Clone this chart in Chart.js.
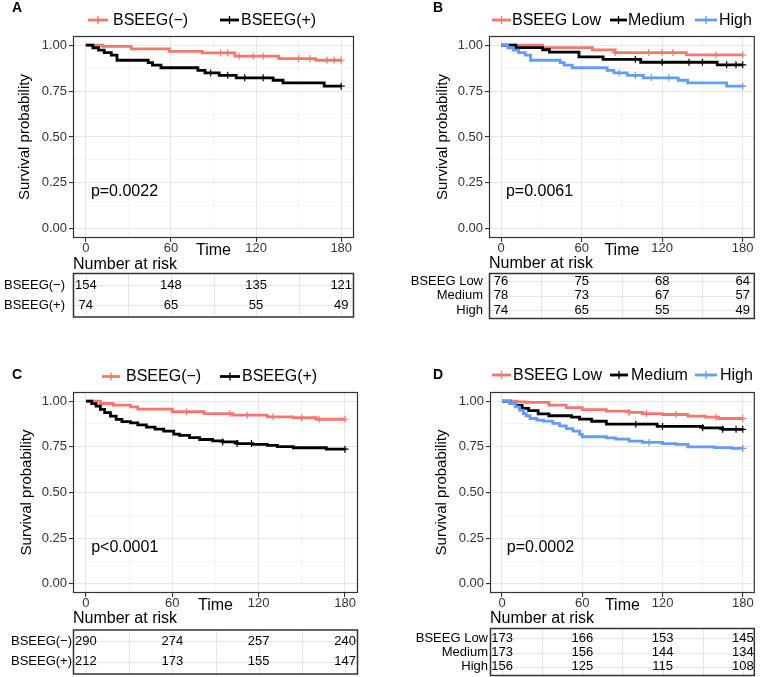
<!DOCTYPE html>
<html>
<head>
<meta charset="utf-8">
<script src="https://cdn.jsdelivr.net/npm/chart.js@4.4.1/dist/chart.umd.min.js"></script>
<style>
  html, body { margin: 0; padding: 0; background: #fff; }
  #wrap { position: relative; width: 760px; height: 677px; overflow: hidden; }
  #wrap canvas { position: absolute; }
</style>
</head>
<body>
<div id="wrap"></div>
<script>
// Kaplan-Meier panels A-D (survminer style), stepped lines + risk tables

const FONT = "'Liberation Sans', Arial, Helvetica, sans-serif";
Chart.defaults.font.family = FONT;

const RED = '#F8766D', BLACK = '#000000', BLUE = '#619CFF';

// axis ticks
const timeTicks = [0, 60, 120, 180];
const minorTimeTicks = [30, 90, 150];
const survTicks = [0, 0.25, 0.5, 0.75, 1];
const minorSurvTicks = [0.125, 0.375, 0.625, 0.875];

// ---- Panel A ----
const aNegTime = [0, 12, 32, 59, 82, 105, 136, 162, 180];
const aNegSurv = [1, 0.993, 0.980, 0.966, 0.958, 0.940, 0.927, 0.918, 0.918];
const aNegCens = [95, 100, 108, 118, 125, 150, 158, 170, 175, 180];
const aPosTime = [0, 5, 9, 13, 18, 22, 44, 47, 53, 79, 84, 94, 106, 132, 139, 168, 180];
const aPosSurv = [1, 0.986, 0.973, 0.959, 0.946, 0.918, 0.905, 0.891, 0.877, 0.863, 0.849, 0.836, 0.822, 0.809, 0.795, 0.777, 0.777];
const aPosCens = [88, 100, 112, 125, 180];
const riskANeg = [154, 148, 135, 121];
const riskAPos = [74, 65, 55, 49];

// ---- Panel B ----
const bLowTime = [0, 31, 68, 85, 138, 180];
const bLowSurv = [1, 0.987, 0.974, 0.960, 0.947, 0.947];
const bLowCens = [85, 110, 120, 128, 160, 180];
const bMedTime = [0, 11, 31, 36, 58, 76, 104, 161, 180];
const bMedSurv = [1, 0.987, 0.975, 0.962, 0.936, 0.923, 0.907, 0.893, 0.893];
const bMedCens = [100, 120, 140, 150, 168, 175, 180];
const bHighTime = [0, 5, 9, 13, 18, 22, 44, 47, 53, 79, 84, 94, 106, 132, 139, 168, 180];
const bHighSurv = [1, 0.986, 0.973, 0.959, 0.946, 0.918, 0.905, 0.891, 0.877, 0.863, 0.849, 0.836, 0.822, 0.809, 0.795, 0.777, 0.777];
const bHighCens = [88, 100, 112, 125, 180];
const riskBLow = [76, 75, 68, 64];
const riskBMed = [78, 73, 67, 57];
const riskBHigh = [74, 65, 55, 49];

// ---- Panel C ----
const cNegTime = [0, 10, 19, 31, 36, 60, 82, 102, 126, 144, 160, 180];
const cNegSurv = [1, 0.987, 0.978, 0.969, 0.956, 0.942, 0.932, 0.923, 0.914, 0.909, 0.901, 0.901];
const cNegCens = [70, 100, 112, 130, 150, 162, 180];
const cPosTime = [0, 4, 7, 10, 13, 17, 21, 25, 31, 36, 42, 48, 54, 61, 65, 72, 79, 88, 95, 105, 116, 126, 133, 144, 167, 180];
const cPosSurv = [1, 0.986, 0.973, 0.955, 0.937, 0.918, 0.900, 0.888, 0.881, 0.870, 0.858, 0.847, 0.836, 0.820, 0.813, 0.800, 0.790, 0.783, 0.777, 0.768, 0.763, 0.758, 0.751, 0.745, 0.737, 0.737];
const cPosCens = [95, 105, 115, 180];
const riskCNeg = [290, 274, 257, 240];
const riskCPos = [212, 173, 155, 147];

// ---- Panel D ----
const dLowTime = [0, 11, 18, 35, 48, 60, 78, 95, 105, 120, 139, 152, 162, 180];
const dLowSurv = [1, 0.996, 0.993, 0.978, 0.965, 0.954, 0.945, 0.938, 0.932, 0.927, 0.918, 0.912, 0.905, 0.905];
const dLowCens = [95, 108, 130, 160, 180];
const dMedTime = [0, 6, 10, 15, 20, 27, 35, 52, 58, 67, 78, 116, 150, 165, 180];
const dMedSurv = [1, 0.988, 0.977, 0.960, 0.948, 0.930, 0.920, 0.913, 0.902, 0.890, 0.874, 0.862, 0.854, 0.846, 0.846];
const dMedCens = [100, 120, 150, 165, 175, 180];
const dHighTime = [0, 6, 10, 13, 16, 18, 21, 26, 31, 38, 43, 48, 53, 58, 60, 78, 85, 95, 105, 120, 130, 139, 159, 172, 180];
const dHighSurv = [1, 0.987, 0.969, 0.951, 0.932, 0.920, 0.905, 0.896, 0.891, 0.878, 0.865, 0.850, 0.836, 0.818, 0.805, 0.799, 0.792, 0.781, 0.774, 0.768, 0.763, 0.750, 0.746, 0.741, 0.741];
const dHighCens = [110, 180];
const riskDLow = [173, 166, 153, 145];
const riskDMed = [173, 156, 144, 134];
const riskDHigh = [156, 125, 115, 108];

// survival value of a step curve at time t (for placing censor marks)
function survAt(times, surv, t) {
  let s = surv[0];
  for (let i = 0; i < times.length; i++) if (times[i] <= t) s = surv[i];
  return s;
}

const panels = [
  {
    id: 'A', pos: [0, 0, 380, 330], area: { l: 73, t: 36, r: 354, b: 238 }, titleCenter: 25,
    letterPos: [17, 8], legendY: 20,
    legend: [
      { label: 'BSEEG(\u2212)', color: RED, x1: 88, x2: 108, tx: 113 },
      { label: 'BSEEG(+)', color: BLACK, x1: 220, x2: 239, tx: 241 }
    ],
    curves: [
      { t: aNegTime, s: aNegSurv, c: aNegCens, color: RED },
      { t: aPosTime, s: aPosSurv, c: aPosCens, color: BLACK }
    ],
    pText: 'p=0.0022', narY: 264.5, box: [273, 316.5], rowsY: [285, 305], labelRight: 65,
    rows: [{ label: 'BSEEG(\u2212)', n: riskANeg }, { label: 'BSEEG(+)', n: riskAPos }]
  },
  {
    id: 'B', pos: [380, 0, 380, 330], area: { l: 109, t: 36, r: 377, b: 238 }, titleCenter: 63,
    letterPos: [58, 8], legendY: 20,
    legend: [
      { label: 'BSEEG Low', color: RED, x1: 112, x2: 131, tx: 132 },
      { label: 'Medium', color: BLACK, x1: 230, x2: 247, tx: 248 },
      { label: 'High', color: BLUE, x1: 315, x2: 337, tx: 339 }
    ],
    curves: [
      { t: bLowTime, s: bLowSurv, c: bLowCens, color: RED },
      { t: bMedTime, s: bMedSurv, c: bMedCens, color: BLACK },
      { t: bHighTime, s: bHighSurv, c: bHighCens, color: BLUE }
    ],
    pText: 'p=0.0061', narY: 263.5, box: [273, 318], rowsY: [281, 295.7, 310], labelRight: 103,
    rows: [{ label: 'BSEEG Low', n: riskBLow }, { label: 'Medium', n: riskBMed }, { label: 'High', n: riskBHigh }]
  },
  {
    id: 'C', pos: [0, 330, 380, 347], area: { l: 73, t: 62, r: 358, b: 263 }, titleCenter: 27,
    letterPos: [17, 45], legendY: 46.5,
    legend: [
      { label: 'BSEEG(\u2212)', color: RED, x1: 102, x2: 120, tx: 126 },
      { label: 'BSEEG(+)', color: BLACK, x1: 220, x2: 240, tx: 242 }
    ],
    curves: [
      { t: cNegTime, s: cNegSurv, c: cNegCens, color: RED },
      { t: cPosTime, s: cPosSurv, c: cPosCens, color: BLACK }
    ],
    pText: 'p<0.0001', narY: 289, box: [299.5, 343.5], rowsY: [311, 331.5], labelRight: 72,
    rows: [{ label: 'BSEEG(\u2212)', n: riskCNeg }, { label: 'BSEEG(+)', n: riskCPos }]
  },
  {
    id: 'D', pos: [380, 330, 380, 347], area: { l: 110, t: 62, r: 377, b: 263 }, titleCenter: 62,
    letterPos: [58, 45], legendY: 45,
    legend: [
      { label: 'BSEEG Low', color: RED, x1: 112, x2: 131, tx: 133 },
      { label: 'Medium', color: BLACK, x1: 230, x2: 248, tx: 251 },
      { label: 'High', color: BLUE, x1: 315, x2: 337, tx: 340 }
    ],
    curves: [
      { t: dLowTime, s: dLowSurv, c: dLowCens, color: RED },
      { t: dMedTime, s: dMedSurv, c: dMedCens, color: BLACK },
      { t: dHighTime, s: dHighSurv, c: dHighCens, color: BLUE }
    ],
    pText: 'p=0.0002', narY: 289, box: [298, 345], rowsY: [308, 322.7, 336.7], labelRight: 108,
    rows: [{ label: 'BSEEG Low', n: riskDLow }, { label: 'Medium', n: riskDMed }, { label: 'High', n: riskDHigh }]
  }
];

const allX = [...timeTicks, ...minorTimeTicks].sort((a, b) => a - b);
const allY = [...survTicks, ...minorSurvTicks].sort((a, b) => a - b);
const isMajorX = v => timeTicks.includes(v);
const isMajorY = v => survTicks.some(s => Math.abs(s - v) < 1e-9);

function drawExtras(chart, p) {
  const ctx = chart.ctx, a = chart.chartArea, xs = chart.scales.x, ys = chart.scales.y;
  ctx.save();

  // panel border
  ctx.strokeStyle = '#333';
  ctx.lineWidth = 1.2;
  ctx.strokeRect(a.left + 0.5, a.top + 0.5, a.right - a.left - 1, a.bottom - a.top - 1);

  // panel letter
  ctx.fillStyle = '#000';
  ctx.textBaseline = 'middle';
  ctx.textAlign = 'center';
  ctx.font = 'bold 14px ' + FONT;
  ctx.fillText(p.id, p.letterPos[0], p.letterPos[1]);

  // legend
  ctx.font = '16px ' + FONT;
  ctx.textAlign = 'left';
  p.legend.forEach(it => {
    ctx.strokeStyle = it.color;
    ctx.lineWidth = 2.8;
    ctx.beginPath();
    ctx.moveTo(it.x1, p.legendY);
    ctx.lineTo(it.x2, p.legendY);
    ctx.stroke();
    const mx = (it.x1 + it.x2) / 2;
    ctx.lineWidth = 1.3;
    ctx.beginPath();
    ctx.moveTo(mx, p.legendY - 4);
    ctx.lineTo(mx, p.legendY + 4);
    ctx.stroke();
    ctx.fillStyle = '#000';
    ctx.fillText(it.label, it.tx, p.legendY + 0.5);
  });

  // p value
  ctx.fillText(p.pText, xs.getPixelForValue(3.6), ys.getPixelForValue(0.2));

  // x title sits on tick label row
  ctx.textAlign = 'center';
  ctx.fillText('Time', (a.left + a.right) / 2, a.bottom + 13);

  // risk table
  ctx.textAlign = 'left';
  ctx.fillText('Number at risk', a.left, p.narY);

  const [bt, bb] = p.box;
  ctx.strokeStyle = '#E6E6E6';
  ctx.lineWidth = 1;
  allX.forEach(v => {
    const px = Math.round(xs.getPixelForValue(v)) + 0.5;
    ctx.beginPath();
    ctx.moveTo(px, bt);
    ctx.lineTo(px, bb);
    ctx.stroke();
  });
  p.rowsY.forEach(y => {
    ctx.beginPath();
    ctx.moveTo(a.left, Math.round(y) + 0.5);
    ctx.lineTo(a.right, Math.round(y) + 0.5);
    ctx.stroke();
  });
  ctx.strokeStyle = '#333';
  ctx.lineWidth = 1.5;
  ctx.strokeRect(a.left + 0.5, bt + 0.5, a.right - a.left - 1, bb - bt);

  ctx.font = '13px ' + FONT;
  p.rows.forEach((row, i) => {
    const y = p.rowsY[i];
    ctx.fillStyle = '#000';
    ctx.textAlign = 'right';
    ctx.fillText(row.label, p.labelRight, y);
    ctx.textAlign = 'center';
    row.n.forEach((n, j) => ctx.fillText(String(n), xs.getPixelForValue(timeTicks[j]), y));
  });

  ctx.restore();
}

panels.forEach(p => {
  const [left, top, W, H] = p.pos;
  const cv = document.createElement('canvas');
  cv.width = W;
  cv.height = H;
  cv.style.left = left + 'px';
  cv.style.top = top + 'px';
  document.getElementById('wrap').appendChild(cv);

  const padLeft = p.area.l - 73;
  const datasets = [];
  p.curves.forEach((c, k) => {
    const order = p.curves.length - k;
    datasets.push({
      data: c.t.map((t, i) => ({ x: t, y: c.s[i] })),
      stepped: true,
      borderColor: c.color,
      borderWidth: 2.8,
      borderJoinStyle: 'miter',
      pointRadius: 0,
      pointHoverRadius: 0,
      fill: false,
      order: order
    });
    datasets.push({
      data: c.c.map(t => ({ x: t, y: survAt(c.t, c.s, t) })),
      showLine: false,
      pointStyle: 'cross',
      pointRadius: 3.5,
      pointBorderWidth: 1.2,
      borderColor: c.color,
      backgroundColor: c.color,
      order: order
    });
  });

  new Chart(cv, {
    type: 'line',
    data: { datasets },
    options: {
      responsive: false,
      animation: false,
      events: [],
      layout: { padding: { left: padLeft, top: p.area.t, right: W - p.area.r, bottom: H - p.area.b - 20 } },
      plugins: { legend: { display: false }, tooltip: { enabled: false } },
      scales: {
        x: {
          type: 'linear',
          min: -9,
          max: 189,
          afterBuildTicks: s => { s.ticks = allX.map(v => ({ value: v })); },
          afterFit: s => { s.height = 20; },
          border: { display: false },
          grid: {
            color: c => isMajorX(c.tick.value) ? '#E8E8E8' : '#F2F2F2',
            lineWidth: c => isMajorX(c.tick.value) ? 1.1 : 0.8,
            tickColor: c => isMajorX(c.tick.value) ? '#333' : 'rgba(0,0,0,0)',
            tickLength: 4
          },
          ticks: {
            autoSkip: false,
            maxRotation: 0,
            padding: 0,
            color: '#333',
            font: { size: 13, lineHeight: 1 },
            callback: v => isMajorX(v) ? String(v) : ''
          }
        },
        y: {
          min: -0.05,
          max: 1.05,
          afterBuildTicks: s => { s.ticks = allY.map(v => ({ value: v })); },
          afterFit: s => { s.width = 73; },
          border: { display: false },
          grid: {
            color: c => isMajorY(c.tick.value) ? '#E8E8E8' : '#F2F2F2',
            lineWidth: c => isMajorY(c.tick.value) ? 1.1 : 0.8,
            tickColor: c => isMajorY(c.tick.value) ? '#333' : 'rgba(0,0,0,0)',
            tickLength: 4
          },
          ticks: {
            padding: 2,
            color: '#333',
            font: { size: 13 },
            callback: v => isMajorY(v) ? v.toFixed(2) : ''
          },
          title: {
            display: true,
            text: 'Survival probability',
            color: '#000',
            font: { size: 15 },
            padding: { top: p.titleCenter - padLeft - 9, bottom: 0 }
          }
        }
      }
    },
    plugins: [{ id: 'kmExtras', afterDraw: chart => drawExtras(chart, p) }]
  });
});
</script>
</body>
</html>
